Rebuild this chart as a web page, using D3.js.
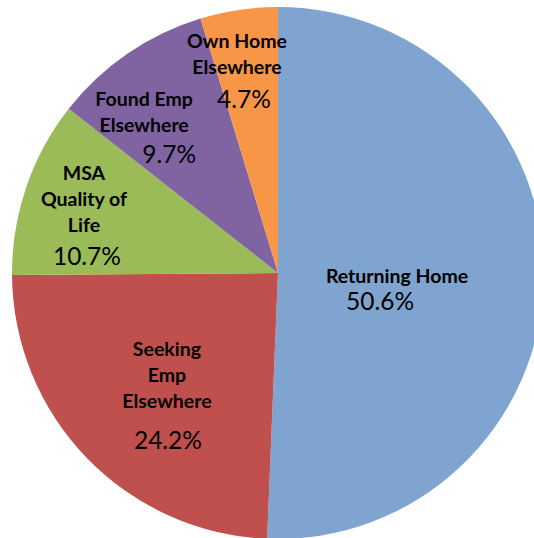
<!DOCTYPE html>
<html>
<head>
<meta charset="utf-8">
<script src="https://cdn.jsdelivr.net/npm/d3@7"></script>
<style>
  html, body { margin: 0; padding: 0; background: #fff; }
  svg { display: block; }
</style>
</head>
<body>
<svg id="chart" width="534" height="538"></svg>
<script>
// data (clockwise from 12 o'clock)
var categories = [
  ["Returning Home"],
  ["Seeking", "Emp", "Elsewhere"],
  ["MSA", "Quality of", "Life"],
  ["Found Emp", "Elsewhere"],
  ["Own Home", "Elsewhere"]
];
var values = [50.6, 24.2, 10.7, 9.7, 4.7];
var percentLabels = ["50.6%", "24.2%", "10.7%", "9.7%", "4.7%"];
var colors = ["#7FA4CF", "#C0504D", "#9BBB59", "#8064A2", "#F79646"];

var svg = d3.select("#chart");
var cx = 278, cy = 273, radius = 266;

var g = svg.append("g")
  .attr("transform", "translate(" + cx + "," + cy + ")");

var pie = d3.pie().sort(null).value(function(d) { return d; });
var arcs = pie(values);

var arc = d3.arc().innerRadius(0).outerRadius(radius);

g.selectAll("path.slice")
  .data(arcs)
  .enter()
  .append("path")
  .attr("class", "slice")
  .attr("d", arc)
  .attr("fill", function(d, i) { return colors[i]; });

// label placement, roughly where excel put them: radius fraction,
// angle nudge (deg), gap to the percent line, percent x shift
var labelLayout = [
  {k: 0.452, shift: 6.7, gap: 27, pctDx: -17},
  {k: 0.621, shift: -3.7, gap: 41, pctDx: 1},
  {k: 0.761, shift: -2.3, gap: 33, pctDx: 3},
  {k: 0.742, shift: -8.3, gap: 31, pctDx: 25},
  {k: 0.775, shift: -3.0, gap: 34, pctDx: 7}
];
var lineStep = 26, capH = 14;

var labels = g.selectAll("g.label")
  .data(arcs)
  .enter()
  .append("g")
  .attr("class", "label")
  .attr("font-family", "Lato, 'Open Sans', sans-serif")
  .attr("text-anchor", "middle")
  .attr("fill", "#000");

labels.each(function(d, i) {
  var lay = labelLayout[i];
  var mid = (d.startAngle + d.endAngle) / 2 + lay.shift * Math.PI / 180;
  var r = radius * lay.k;
  var x = r * Math.sin(mid), y = -r * Math.cos(mid);
  var lines = categories[i];
  var blockH = capH + lineStep * (lines.length - 1) + lay.gap;
  var top = y - blockH / 2 + capH;
  var sel = d3.select(this);

  lines.forEach(function(line, j) {
    sel.append("text")
      .attr("x", x)
      .attr("y", top + j * lineStep)
      .attr("font-size", 19.5)
      .attr("font-weight", "bold")
      .text(line);
  });

  sel.append("text")
    .attr("x", x + lay.pctDx)
    .attr("y", top + lineStep * (lines.length - 1) + lay.gap)
    .attr("font-size", 24.5)
    .text(percentLabels[i]);
});
</script>
</body>
</html>
